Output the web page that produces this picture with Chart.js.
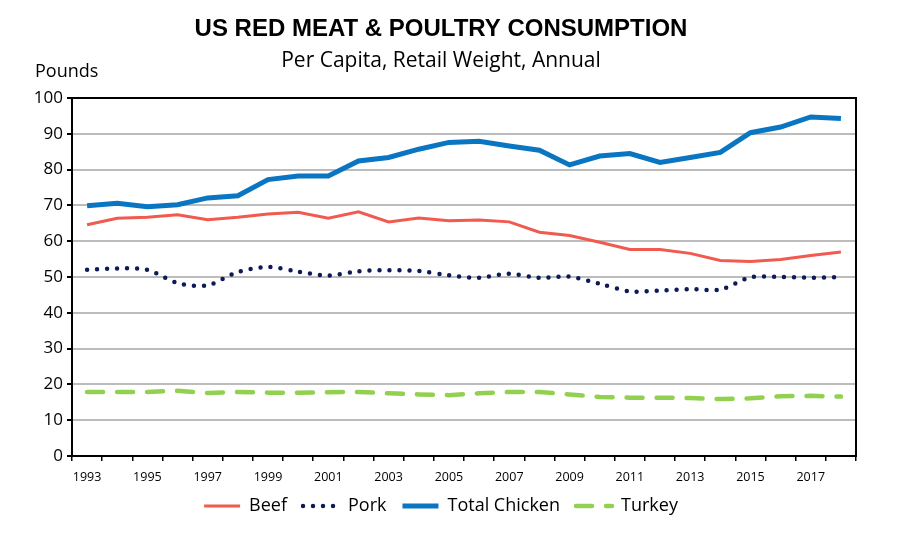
<!DOCTYPE html>
<html>
<head>
<meta charset="utf-8">
<script src="https://cdn.jsdelivr.net/npm/chart.js@4"></script>
<style>
  html, body { margin: 0; padding: 0; background: #fff; }
  #wrap { width: 900px; height: 550px; }
</style>
</head>
<body>
<div id="wrap"><canvas id="meatChart" width="900" height="550"></canvas></div>
<script>
// Years on the x axis (labels shown every other year)
const years = [1993, 1994, 1995, 1996, 1997, 1998, 1999, 2000, 2001, 2002, 2003, 2004, 2005,
               2006, 2007, 2008, 2009, 2010, 2011, 2012, 2013, 2014, 2015, 2016, 2017, 2018];

// Per capita consumption, pounds, retail weight
const beef = [64.6, 66.4, 66.7, 67.4, 66.0, 66.7, 67.6, 68.1, 66.4, 68.2, 65.4, 66.5, 65.7,
              65.9, 65.4, 62.5, 61.6, 59.7, 57.7, 57.7, 56.6, 54.6, 54.3, 54.9, 56.0, 57.0];
const pork = [52.0, 52.4, 52.0, 48.3, 47.7, 51.4, 52.8, 51.5, 50.4, 51.6, 51.9, 51.7, 50.5,
              49.8, 50.9, 49.8, 50.1, 48.1, 46.0, 46.2, 46.6, 46.5, 49.9, 50.0, 49.8, 50.0];
const chicken = [69.9, 70.6, 69.6, 70.2, 72.1, 72.7, 77.2, 78.2, 78.2, 82.4, 83.4, 85.7, 87.6,
                 87.9, 86.6, 85.4, 81.3, 83.8, 84.5, 82.0, 83.4, 84.8, 90.3, 91.9, 94.7, 94.3];
const turkey = [17.9, 17.9, 17.9, 18.2, 17.6, 17.9, 17.7, 17.7, 17.8, 17.9, 17.5, 17.2, 17.0,
                17.5, 17.9, 17.9, 17.2, 16.5, 16.3, 16.3, 16.2, 15.9, 16.1, 16.7, 16.8, 16.6];

const yTicks = [0, 10, 20, 30, 40, 50, 60, 70, 80, 90, 100];

// Draw the box around the plot area plus the "Pounds" unit label
const frameAndUnit = {
    id: 'frameAndUnit',
    afterDraw(chart) {
        const { ctx, chartArea } = chart;
        ctx.save();
        ctx.strokeStyle = '#000';
        ctx.lineWidth = 2;
        ctx.strokeRect(chartArea.left, chartArea.top, chartArea.right - chartArea.left, chartArea.bottom - chartArea.top);
        ctx.fillStyle = '#000';
        ctx.font = '18px "Open Sans"';
        ctx.textAlign = 'left';
        ctx.textBaseline = 'middle';
        ctx.fillText('Pounds', 35, chartArea.top - 26);
        ctx.restore();
    }
};

const ctx = document.getElementById('meatChart').getContext('2d');
new Chart(ctx, {
    type: 'line',
    data: {
        labels: years,
        datasets: [
            {
                label: 'Beef',
                data: beef,
                borderColor: '#f05a4f',
                backgroundColor: '#f05a4f',
                borderWidth: 3,
                pointRadius: 0,
                tension: 0
            },
            {
                label: 'Pork',
                data: pork,
                borderColor: '#0c1a5a',
                backgroundColor: '#0c1a5a',
                borderWidth: 4.5,
                borderDash: [0, 10],
                borderCapStyle: 'round',
                pointRadius: 0,
                tension: 0.3
            },
            {
                label: 'Total Chicken',
                data: chicken,
                borderColor: '#0a76c2',
                backgroundColor: '#0a76c2',
                borderWidth: 5,
                pointRadius: 0,
                tension: 0
            },
            {
                label: 'Turkey',
                data: turkey,
                borderColor: '#92d050',
                backgroundColor: '#92d050',
                borderWidth: 4.5,
                borderDash: [16, 14],
                borderCapStyle: 'round',
                pointRadius: 0,
                tension: 0
            }
        ]
    },
    options: {
        responsive: false,
        animation: false,
        layout: { padding: { top: 0, right: 44, bottom: 25, left: 26 } },
        plugins: {
            title: {
                display: true,
                text: 'US RED MEAT & POULTRY CONSUMPTION',
                color: '#000',
                font: { family: '"Liberation Sans", Arial, sans-serif', size: 24, weight: 'bold' },
                padding: { top: 15, bottom: 2 }
            },
            subtitle: {
                display: true,
                text: 'Per Capita, Retail Weight, Annual',
                color: '#000',
                font: { family: '"Open Sans", sans-serif', size: 21 },
                padding: { top: 3, bottom: 24 }
            },
            legend: {
                position: 'bottom',
                labels: {
                    color: '#000',
                    font: { family: '"Open Sans", sans-serif', size: 18 },
                    usePointStyle: true,
                    pointStyle: 'line',
                    pointStyleWidth: 36,
                    boxWidth: 36,
                    boxHeight: 6,
                    padding: 16,
                    // legend swatches take the dataset's own dash / width
                    generateLabels(chart) {
                        return chart.data.datasets.map((ds, i) => ({
                            text: ds.label,
                            fillStyle: ds.borderColor,
                            strokeStyle: ds.borderColor,
                            lineWidth: ds.borderWidth,
                            lineDash: ds.borderDash || [],
                            lineCap: ds.borderCapStyle || 'butt',
                            pointStyle: 'line',
                            fontColor: '#000',
                            hidden: false,
                            datasetIndex: i
                        }));
                    }
                }
            },
            tooltip: { enabled: false }
        },
        scales: {
            x: {
                offset: true,
                grid: {
                    offset: true,
                    drawOnChartArea: false,
                    tickColor: '#000',
                    tickLength: 5,
                    lineWidth: 1.5
                },
                border: { color: '#000', width: 2 },
                ticks: {
                    autoSkip: false,
                    maxRotation: 0,
                    color: '#000',
                    font: { family: '"Open Sans", sans-serif', size: 12.5 },
                    padding: 9,
                    callback: function (value, index) {
                        return index % 2 === 0 ? years[index] : '';
                    }
                },
                afterFit(scale) { scale.height = 25; }
            },
            y: {
                min: yTicks[0],
                max: yTicks[yTicks.length - 1],
                grid: {
                    color: c => (c.tick && c.tick.value % 10 === 0 ? '#bcbcbc' : 'rgba(0,0,0,0)'),
                    lineWidth: 2,
                    tickColor: '#000',
                    tickLength: 5
                },
                border: { color: '#000', width: 2 },
                ticks: {
                    stepSize: 5,
                    color: '#000',
                    font: { family: '"Open Sans", sans-serif', size: 17 },
                    padding: 4,
                    callback: v => (yTicks.includes(v) ? v : '')
                },
                afterFit(scale) { scale.width = 46; }
            }
        }
    },
    plugins: [frameAndUnit]
});
</script>
</body>
</html>
